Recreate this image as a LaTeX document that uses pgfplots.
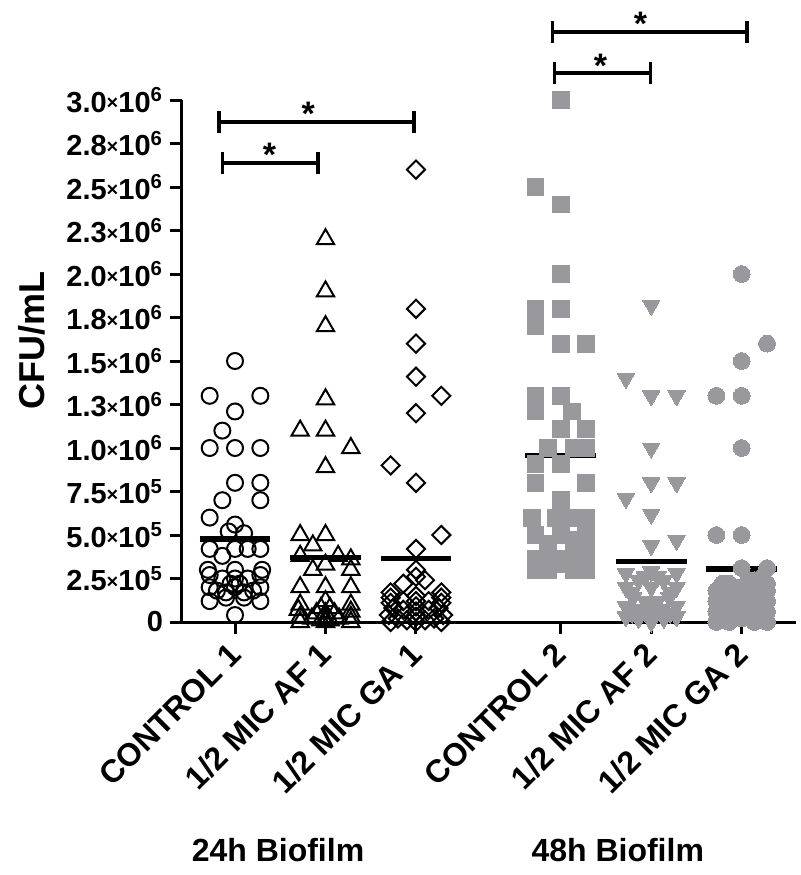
\documentclass[border=0pt]{standalone}
\usepackage{fontspec}
\setmainfont{Liberation Sans}
\usepackage{pgfplots}
\pgfplotsset{compat=1.18}
\definecolor{dgray}{RGB}{152,152,157}
\newcommand{\tl}[2]{#1\raisebox{0.15ex}{\fontsize{10}{10}\selectfont×}10\textsuperscript{#2}}
\begin{document}
\begin{tikzpicture}
\begin{axis}[
  at={(0,0)}, anchor=south west,
  scale only axis, width=307pt, height=261pt,
  xmin=-0.586, xmax=6.2, ymin=0, ymax=3e6,
  clip=false,
  axis x line=bottom, axis y line=left,
  axis line style={-, line width=1.5pt},
  tick style={line width=1.5pt, black},
  tick align=outside, major tick length=6pt,
  xtick={0,1,2,3.6,4.6,5.6},
  xticklabels={CONTROL 1,1/2 MIC AF 1,1/2 MIC GA 1,CONTROL 2,1/2 MIC AF 2,1/2 MIC GA 2},
  xticklabel style={xshift=2.5pt, yshift=-5pt, rotate=45, anchor=east, font=\bfseries\fontsize{16}{16}\selectfont},
  ytick={0,250000,500000,750000,1000000,1250000,1500000,1750000,2000000,2250000,2500000,2750000,3000000},
  yticklabels={0,\tl{2.5}{5},\tl{5.0}{5},\tl{7.5}{5},\tl{1.0}{6},\tl{1.3}{6},\tl{1.5}{6},\tl{1.8}{6},\tl{2.0}{6},\tl{2.3}{6},\tl{2.5}{6},\tl{2.8}{6},\tl{3.0}{6}},
  yticklabel style={font=\bfseries\fontsize{14.5}{14.5}\selectfont},
  scaled y ticks=false,
  ylabel={CFU/mL},
  ylabel style={font=\bfseries\fontsize{18}{18}\selectfont, at={(axis description cs:-0.244,0.54)}, anchor=center},
]
% 24h control: open circles
\addplot[only marks, mark=o, mark size=4pt, mark options={line width=1pt, black}] coordinates {
(0,1.50e6) (-0.28,1.30e6) (0.28,1.30e6) (0,1.21e6) (-0.14,1.10e6) (-0.28,1.00e6) (0,1.00e6) (0.28,1.00e6)
(0,0.80e6) (0.28,0.80e6) (-0.14,0.70e6) (0.28,0.70e6) (-0.28,0.60e6) (0,0.56e6) (-0.07,0.52e6) (0.1,0.51e6)
(-0.28,0.42e6) (-0.14,0.38e6) (0,0.42e6) (0.14,0.42e6) (0.28,0.42e6) (-0.3,0.30e6) (-0.28,0.27e6) (0,0.30e6)
(0.3,0.30e6) (0.28,0.27e6) (-0.14,0.25e6) (0.14,0.25e6) (0,0.25e6) (-0.05,0.22e6) (0.05,0.22e6) (-0.28,0.20e6)
(0.28,0.20e6) (-0.2,0.18e6) (0.2,0.18e6) (-0.1,0.17e6) (0.1,0.17e6) (0,0.20e6) (-0.28,0.12e6) (-0.1,0.14e6)
(0.1,0.14e6) (0.28,0.12e6) (0,0.04e6)
};
% 24h AF: open triangles
\addplot[only marks, mark=triangle, mark size=5pt, mark options={line width=1pt, black}] coordinates {
(1,2.2e6) (1,1.9e6) (1,1.7e6) (1,1.28e6) (0.72,1.1e6) (1,1.1e6) (1.28,1.0e6) (1,0.89e6) (0.72,0.5e6) (1,0.5e6)
(0.86,0.44e6) (0.72,0.38e6) (1.14,0.38e6) (1.28,0.36e6) (0.86,0.30e6) (1,0.33e6) (1.28,0.30e6) (0.72,0.2e6)
(1,0.2e6) (1.28,0.2e6) (0.72,0.1e6) (0.7,0.07e6) (1.28,0.1e6) (1.28,0.06e6) (1,0.12e6) (0.95,0.08e6)
(1.05,0.08e6) (0.9,0.05e6) (1.1,0.05e6) (1,0.05e6) (0.72,0.03e6) (1.28,0.03e6) (0.85,0.02e6) (1.15,0.02e6)
(1,0.02e6) (0.95,0.01e6) (1.05,0.01e6) (0.72,0) (1.28,0) (1,0)
};
% 24h GA: open diamonds
\addplot[only marks, mark=square, mark size=3.2pt, mark options={line width=1pt, black, rotate=45}] coordinates {
(2,2.6e6) (2,1.8e6) (2,1.6e6) (2,1.41e6) (2.28,1.3e6) (2,1.2e6) (1.72,0.9e6) (2,0.8e6) (2.28,0.5e6) (2,0.42e6)
(2,0.3e6) (2,0.26e6) (1.86,0.22e6) (2.1,0.24e6) (1.72,0.17e6) (2.28,0.17e6) (1.72,0.14e6) (2.28,0.14e6)
(1.72,0.11e6) (2.28,0.11e6) (1.75,0.08e6) (2.25,0.08e6) (2,0.15e6) (2,0.12e6) (2,0.09e6) (1.86,0.12e6)
(2.14,0.12e6) (1.86,0.07e6) (2.14,0.07e6) (2,0.06e6) (1.7,0.04e6) (2.3,0.04e6) (2,0.03e6) (1.8,0.02e6)
(2.2,0.02e6) (1.9,0.01e6) (2.1,0.01e6) (2,0) (1.72,0) (2.28,0)
};
% 48h control: gray squares
\addplot[only marks, color=dgray, mark=square*, mark size=4.2pt, mark options={draw=dgray, fill=dgray, line width=0pt}] coordinates {
(3.6,3.0e6) (3.32,2.5e6) (3.6,2.4e6) (3.6,2.0e6) (3.32,1.8e6) (3.6,1.8e6) (3.32,1.7e6) (3.6,1.6e6) (3.88,1.6e6)
(3.32,1.3e6) (3.6,1.3e6) (3.32,1.21e6) (3.72,1.21e6) (3.6,1.11e6) (3.88,1.11e6) (3.46,1.0e6) (3.74,1.0e6)
(3.88,1.0e6) (3.32,0.91e6) (3.6,0.91e6) (3.32,0.8e6) (3.88,0.8e6) (3.6,0.7e6) (3.28,0.6e6) (3.55,0.6e6)
(3.68,0.6e6) (3.88,0.6e6) (3.32,0.5e6) (3.6,0.5e6) (3.88,0.5e6) (3.46,0.45e6) (3.74,0.47e6) (3.46,0.41e6)
(3.74,0.41e6) (3.88,0.44e6) (3.88,0.37e6) (3.6,0.36e6) (3.32,0.36e6) (3.6,0.33e6) (3.32,0.3e6) (3.46,0.3e6)
(3.74,0.3e6) (3.88,0.3e6) (3.46,0.36e6) (3.74,0.36e6)
};
% 48h AF: gray inverted triangles
\addplot[only marks, color=dgray, mark=triangle*, mark size=5pt, mark options={draw=dgray, fill=dgray, line width=0pt, rotate=180}] coordinates {
(4.6,1.82e6) (4.32,1.4e6) (4.6,1.3e6) (4.88,1.3e6) (4.6,1.0e6) (4.6,0.8e6) (4.88,0.8e6) (4.32,0.71e6)
(4.6,0.62e6) (4.6,0.44e6) (4.88,0.47e6) (4.32,0.28e6) (4.6,0.29e6) (4.88,0.28e6) (4.46,0.24e6) (4.74,0.24e6)
(4.32,0.2e6) (4.6,0.2e6) (4.88,0.2e6) (4.4,0.14e6) (4.8,0.14e6) (4.6,0.12e6) (4.32,0.09e6) (4.88,0.09e6)
(4.5,0.07e6) (4.7,0.07e6) (4.32,0.03e6) (4.46,0.02e6) (4.6,0.03e6) (4.74,0.02e6) (4.88,0.03e6) (4.6,0)
(4.39,0.17e6) (4.81,0.17e6) (4.53,0.12e6) (4.67,0.12e6) (4.39,0.05e6) (4.81,0.05e6) (4.53,0.26e6)
(4.67,0.26e6) (4.6,0.08e6)
};
% 48h GA: gray filled circles
\addplot[only marks, color=dgray, mark=*, mark size=4.2pt, mark options={draw=dgray, fill=dgray, line width=0pt}] coordinates {
(5.6,2.0e6) (5.88,1.6e6) (5.6,1.5e6) (5.32,1.3e6) (5.6,1.3e6) (5.6,1.0e6) (5.32,0.5e6) (5.6,0.5e6)
(5.6,0.31e6) (5.88,0.31e6) (5.46,0.22e6) (5.74,0.24e6) (5.88,0.22e6) (5.32,0.18e6) (5.6,0.2e6) (5.32,0.12e6)
(5.88,0.12e6) (5.32,0.06e6) (5.88,0.06e6) (5.32,0) (5.46,0) (5.6,0.02e6) (5.74,0) (5.88,0) (5.5,0.12e6)
(5.7,0.12e6) (5.6,0.08e6) (5.81,0.15e6) (5.39,0.15e6) (5.53,0.03e6) (5.67,0.05e6) (5.39,0.03e6) (5.81,0.03e6)
(5.74,0.1e6) (5.67,0.18e6) (5.6,0.14e6) (5.39,0.22e6) (5.81,0.25e6) (5.46,0.08e6) (5.74,0.05e6)
(5.46,0.15e6) (5.88,0.18e6) (5.53,0.2e6) (5.39,0.08e6) (5.81,0.08e6) (5.67,0.24e6)
};
% means
\addplot[black, line width=2.6pt] coordinates {(-0.39,0.477e6) (0.39,0.477e6)};
\addplot[black, line width=2.6pt] coordinates {(0.61,0.373e6) (1.39,0.373e6)};
\addplot[black, line width=2.6pt] coordinates {(1.61,0.367e6) (2.39,0.367e6)};
\addplot[black, line width=2.6pt] coordinates {(3.21,0.957e6) (3.99,0.957e6)};
\addplot[black, line width=2.6pt] coordinates {(4.21,0.348e6) (4.99,0.348e6)};
\addplot[black, line width=2.6pt] coordinates {(5.21,0.305e6) (5.99,0.305e6)};
% significance brackets
\draw[line width=1.8pt] (axis cs:-0.14,2.573e6) -- (axis cs:-0.14,2.703e6);
\draw[line width=1.8pt] (axis cs:0.92,2.573e6) -- (axis cs:0.92,2.703e6);
\draw[line width=1.8pt] (axis cs:-0.14,2.638e6) -- (axis cs:0.92,2.638e6);
\draw[line width=1.8pt] (axis cs:-0.18,2.809e6) -- (axis cs:-0.18,2.939e6);
\draw[line width=1.8pt] (axis cs:1.98,2.809e6) -- (axis cs:1.98,2.939e6);
\draw[line width=1.8pt] (axis cs:-0.18,2.874e6) -- (axis cs:1.98,2.874e6);
\draw[line width=1.8pt] (axis cs:3.53,3.09e6) -- (axis cs:3.53,3.22e6);
\draw[line width=1.8pt] (axis cs:4.59,3.09e6) -- (axis cs:4.59,3.22e6);
\draw[line width=1.8pt] (axis cs:3.53,3.155e6) -- (axis cs:4.59,3.155e6);
\draw[line width=1.8pt] (axis cs:3.51,3.326e6) -- (axis cs:3.51,3.456e6);
\draw[line width=1.8pt] (axis cs:5.66,3.326e6) -- (axis cs:5.66,3.456e6);
\draw[line width=1.8pt] (axis cs:3.51,3.391e6) -- (axis cs:5.66,3.391e6);
\node[font=\bfseries\fontsize{17}{17}\selectfont, anchor=base, yshift=-2pt] at (axis cs:0.38,2.638e6) {*};
\node[font=\bfseries\fontsize{17}{17}\selectfont, anchor=base, yshift=-2pt] at (axis cs:0.81,2.874e6) {*};
\node[font=\bfseries\fontsize{17}{17}\selectfont, anchor=base, yshift=-2pt] at (axis cs:4.04,3.155e6) {*};
\node[font=\bfseries\fontsize{17}{17}\selectfont, anchor=base, yshift=-2pt] at (axis cs:4.48,3.391e6) {*};
% group labels
\node[font=\bfseries\fontsize{16}{16}\selectfont] at (axis cs:0.475,-1.31e6) {24h Biofilm};
\node[font=\bfseries\fontsize{16}{16}\selectfont] at (axis cs:4.23,-1.31e6) {48h Biofilm};
\end{axis}
\useasboundingbox (-91pt,-126.5pt) rectangle (309pt,311pt);
\end{tikzpicture}
\end{document}
